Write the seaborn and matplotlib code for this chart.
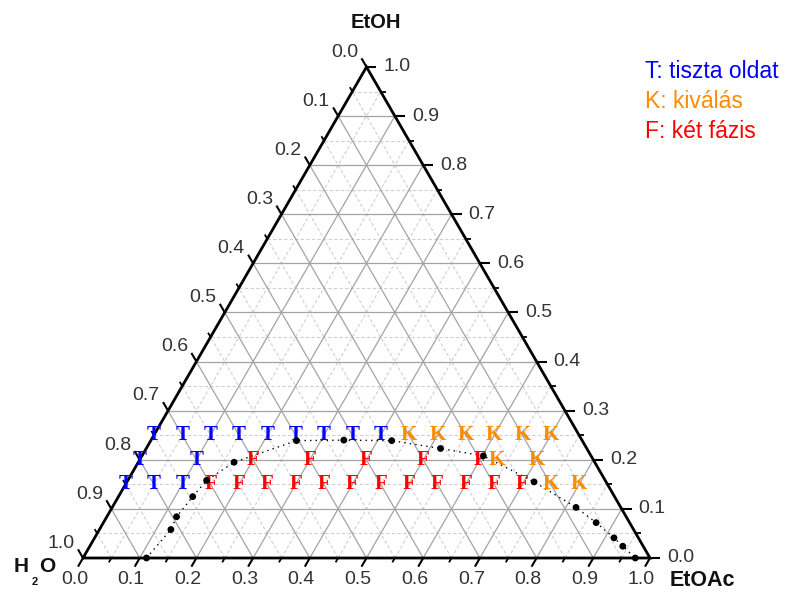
import numpy as np
import pandas as pd
import matplotlib
matplotlib.use("Agg")
import matplotlib.pyplot as plt
import seaborn as sns

# Mixtures tested (mass fractions): EtOAc and EtOH, water is the remainder
t_etoac = [0.00, 0.05, 0.10, 0.15, 0.20, 0.25, 0.30, 0.35, 0.40, 0.00, 0.10, 0.00, 0.05, 0.10]
t_etoh = [0.25, 0.25, 0.25, 0.25, 0.25, 0.25, 0.25, 0.25, 0.25, 0.20, 0.20, 0.15, 0.15, 0.15]

k_etoac = [0.45, 0.50, 0.55, 0.60, 0.65, 0.70, 0.63, 0.70, 0.75, 0.80]
k_etoh = [0.25, 0.25, 0.25, 0.25, 0.25, 0.25, 0.20, 0.20, 0.15, 0.15]

f_etoac = [0.20, 0.30, 0.40, 0.50, 0.60,
           0.15, 0.20, 0.25, 0.30, 0.35, 0.40, 0.45, 0.50, 0.55, 0.60, 0.65, 0.70]
f_etoh = [0.20, 0.20, 0.20, 0.20, 0.20,
          0.15, 0.15, 0.15, 0.15, 0.15, 0.15, 0.15, 0.15, 0.15, 0.15, 0.15, 0.15]

# Binodal (cloud point) curve
bin_etoac = [0.112, 0.126, 0.123, 0.131, 0.139, 0.169, 0.257, 0.340, 0.425,
             0.519, 0.602, 0.718, 0.818, 0.869, 0.916, 0.940, 0.974]
bin_etoh = [0.000, 0.058, 0.084, 0.125, 0.158, 0.195, 0.239, 0.240, 0.239,
            0.223, 0.208, 0.155, 0.103, 0.072, 0.041, 0.024, 0.000]

tick_values = [0.0, 0.1, 0.2, 0.3, 0.4, 0.5, 0.6, 0.7, 0.8, 0.9, 1.0]
minor_values = [0.05, 0.15, 0.25, 0.35, 0.45, 0.55, 0.65, 0.75, 0.85, 0.95]

legend_lines = ["T: tiszta oldat", "K: kiválás", "F: két fázis"]
phase_colors = {"T": "#0000FF", "K": "#FF8C00", "F": "#FF0000"}

sns.set_theme(style="white")
plt.rcParams["font.family"] = ["Liberation Sans", "DejaVu Sans"]

SQ = np.sqrt(3) / 2


def tern(a, e):
    a = np.asarray(a, dtype=float)
    e = np.asarray(e, dtype=float)
    return a + e / 2, e * SQ


W, H = 789, 593
side = 567.0            # triangle side in pixels
ox, oy = 83.0, 35.0     # lower-left corner, from left / bottom
px = 1.0 / side


def at_px(xp, yp):
    """Figure pixel position (from top-left) -> data coordinates."""
    return (xp - ox) * px, (H - oy - yp) * px


fig = plt.figure(figsize=(W / 100, H / 100), dpi=100)
ax = fig.add_axes([0, 0, 1, 1])
ax.set_xlim(-ox / side, (W - ox) / side)
ax.set_ylim(-oy / side, (H - oy) / side)
ax.set_axis_off()

# grid
for v in minor_values + tick_values[1:-1]:
    major = v in tick_values
    kw = dict(color="#a3a3a3", lw=0.9, ls="-") if major else \
        dict(color="#cfcfcf", lw=0.8, ls=(0, (3, 2)))
    for (a0, e0), (a1, e1) in [((0, v), (1 - v, v)),
                               ((v, 0), (v, 1 - v)),
                               ((1 - v, 0), (0, 1 - v))]:
        xs, ys = tern([a0, a1], [e0, e1])
        ax.plot(xs, ys, zorder=1, **kw)

# frame
fx, fy = tern([0, 1, 0, 0], [0, 0, 1, 0])
ax.plot(fx, fy, color="black", lw=2, zorder=3, solid_joinstyle="miter")

# ticks
d_bottom = np.array([-0.5, -SQ])
d_right = np.array([1.0, 0.0])
d_left = np.array([-0.5, SQ])


def edge_point(axis, t):
    if axis == "bottom":
        return np.array(tern(t, 0.0))
    if axis == "right":
        return np.array(tern(1 - t, t))
    return np.array(tern(0.0, 1 - t))


for axis, d in [("bottom", d_bottom), ("right", d_right), ("left", d_left)]:
    for t in tick_values:
        p = edge_point(axis, t)
        q = p + d * 10 * px
        ax.plot([p[0], q[0]], [p[1], q[1]], color="black", lw=1.5, zorder=3,
                solid_capstyle="butt")
        lp = p + d * 17 * px
        if axis == "bottom":
            ax.text(lp[0], lp[1] + 2 * px, f"{t:.1f}", ha="center", va="top",
                    fontsize=14, color="#333333")
        elif axis == "right":
            ax.text(lp[0], lp[1], f"{t:.1f}", ha="left", va="center",
                    fontsize=14, color="#333333")
        else:
            ax.text(lp[0], lp[1], f"{t:.1f}", ha="right", va="center",
                    fontsize=14, color="#333333")
    for t in minor_values:
        p = edge_point(axis, t)
        q = p + d * 5 * px
        ax.plot([p[0], q[0]], [p[1], q[1]], color="black", lw=1.3, zorder=3,
                solid_capstyle="butt")

# binodal curve
bx, by = tern(bin_etoac, bin_etoh)
curve = pd.DataFrame({"x": bx, "y": by})
sns.lineplot(data=curve, x="x", y="y", sort=False, ax=ax, color="black",
             lw=1.0, linestyle=(0, (1, 3)), zorder=4)
sns.scatterplot(data=curve, x="x", y="y", ax=ax, color="black", s=24,
                edgecolor="none", zorder=6)
ax.set_xlabel("")
ax.set_ylabel("")

# phase letters
for letter, ea, ee in [("T", t_etoac, t_etoh), ("F", f_etoac, f_etoh),
                       ("K", k_etoac, k_etoh)]:
    xs, ys = tern(ea, ee)
    for x, y in zip(xs, ys):
        ax.text(x, y, letter, ha="center", va="center", fontsize=15,
                fontweight="bold", family="Liberation Serif",
                color=phase_colors[letter], zorder=5)

# corner names
ax.text(*at_px(376, 23), "EtOH", ha="center", va="center",
        fontsize=14.5, fontweight="bold", color="#111111")
ax.text(*at_px(702, 580), "EtOAc", ha="center", va="center",
        fontsize=15.5, fontweight="bold", color="#111111")
ax.text(*at_px(21.5, 566), "H", ha="center", va="center",
        fontsize=15, fontweight="bold", color="#111111")
ax.text(*at_px(34.5, 582), "2", ha="center", va="center",
        fontsize=8, fontweight="bold", color="#111111")
ax.text(*at_px(47.5, 566), "O", ha="center", va="center",
        fontsize=15, fontweight="bold", color="#111111")

# key
for i, (line, c) in enumerate(zip(legend_lines, ["#0000FF", "#FF8C00", "#FF0000"])):
    ax.text(*at_px(645, 72 + 30 * i), line,
            ha="left", va="center", fontsize=16.5, color=c)

fig.savefig("out.png", dpi=100)
